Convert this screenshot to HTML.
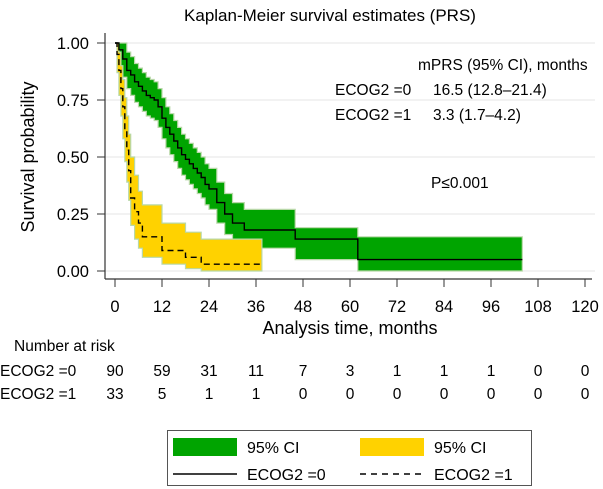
<!DOCTYPE html>
<html><head><meta charset="utf-8"><style>
body{margin:0;background:#fff;}
svg{display:block;font-family:"Liberation Sans",Arial,sans-serif;}
</style></head><body>
<svg id="chart" width="603" height="489" viewBox="0 0 603 489">
<rect x="0" y="0" width="603" height="489" fill="#fff"/>
<text x="330" y="21" text-anchor="middle" font-size="17">Kaplan-Meier survival estimates (PRS)</text>
<g id="grid"></g>
<g id="bands"></g>
<g id="lines"></g>
<g id="axes"></g>
<text x="34" y="157" text-anchor="middle" font-size="18" transform="rotate(-90 34 157)">Survival probability</text>
<text x="350" y="334" text-anchor="middle" font-size="18">Analysis time, months</text>
<text x="418" y="70" font-size="15.5">mPRS (95% CI), months</text>
<text x="335" y="95" font-size="15.5">ECOG2 =0</text>
<text x="433" y="95" font-size="15.5">16.5 (12.8–21.4)</text>
<text x="335" y="120" font-size="15.5">ECOG2 =1</text>
<text x="433" y="120" font-size="15.5">3.3 (1.7–4.2)</text>
<text x="431" y="188" font-size="15.5">P≤0.001</text>
<text x="14" y="351" font-size="15.5">Number at risk</text>
<text x="0" y="376" font-size="15.5">ECOG2 =0</text>
<text x="0" y="399" font-size="15.5">ECOG2 =1</text>
<g id="risk"></g>
<g>
<rect x="167.5" y="430.5" width="364" height="55" fill="#fff" stroke="#555"/>
<rect x="173" y="438" width="64" height="18" fill="#00a400"/>
<text x="247" y="453" font-size="16">95% CI</text>
<rect x="360" y="438" width="64" height="18" fill="#ffd200"/>
<text x="434" y="453" font-size="16">95% CI</text>
<line x1="173" y1="474" x2="237" y2="474" stroke="#000" stroke-width="1.5"/>
<text x="247" y="480" font-size="16">ECOG2 =0</text>
<line x1="360" y1="474" x2="424" y2="474" stroke="#000" stroke-width="1.5" stroke-dasharray="6,5"/>
<text x="434" y="480" font-size="16">ECOG2 =1</text>
</g>
</svg>
<script>
const xTicks=[0,12,24,36,48,60,72,84,96,108,120];
const yTicks=[0,0.25,0.5,0.75,1];
const yTickLabels=["0.00","0.25","0.50","0.75","1.00"];
const riskEcog0=[90,59,31,11,7,3,1,1,1,0,0];
const riskEcog1=[33,5,1,1,0,0,0,0,0,0,0];
const g0Time=[0,1,2,3,4,5,6,7,8,9,10,11,12,13,14,15,16,17,18,19,20,21,22,23,24,26,28,30,33,46,62];
const g0Surv=[1,.97,.93,.88,.86,.83,.81,.79,.77,.76,.75,.72,.67,.63,.6,.57,.54,.51,.49,.47,.45,.43,.41,.38,.36,.3,.25,.21,.18,.14,.05];
const g0Upper=[1,1,1,.96,.94,.91,.89,.87,.85,.84,.83,.8,.76,.72,.69,.66,.63,.6,.58,.56,.54,.52,.5,.47,.45,.39,.34,.3,.27,.19,.15];
const g0Lower=[1,.9,.85,.8,.77,.74,.72,.7,.68,.67,.66,.63,.58,.54,.51,.48,.45,.42,.4,.38,.36,.34,.32,.29,.27,.21,.16,.13,.1,.05,0];
const g0End=104;
const g1Time=[0,0.5,1,1.5,2,2.5,3,3.5,4,5,6,7,12,18,22];
const g1Surv=[1,.95,.88,.8,.72,.62,.53,.44,.32,.26,.21,.15,.09,.06,.03];
const g1Upper=[1,1,.96,.9,.84,.76,.68,.6,.5,.42,.35,.29,.21,.17,.14];
const g1Lower=[1,.87,.77,.68,.58,.48,.39,.31,.2,.14,.1,.06,.03,.01,0];
const g1End=37.5;

const NS='http://www.w3.org/2000/svg';
const X0=115,X1=585,Y0=271,Y1=43;
function xs(t){return X0+(t/120)*(X1-X0);}
function ys(v){return Y0-v*(Y0-Y1);}
function mk(tag,attrs,parent){const e=document.createElementNS(NS,tag);for(const k in attrs)e.setAttribute(k,attrs[k]);document.getElementById(parent).appendChild(e);return e;}
function stepPts(T,V,end){const p=[];for(let i=0;i<T.length;i++){if(i>0)p.push([xs(T[i]),ys(V[i-1])]);p.push([xs(T[i]),ys(V[i])]);}p.push([xs(end),ys(V[V.length-1])]);return p;}
function pathD(p){return p.map((q,i)=>(i?'L':'M')+q[0].toFixed(1)+','+q[1].toFixed(1)).join('');}

yTicks.forEach((v,i)=>{
  const l=mk('line',{x1:105,x2:595,y1:ys(v),y2:ys(v),stroke:'#e4e4e4','stroke-width':1},'grid');
  
  
  const t=mk('line',{x1:97,x2:105,y1:ys(v),y2:ys(v),stroke:'#333','stroke-width':1},'axes');
  
  
  const tx=mk('text',{x:89,y:ys(v)+6,'text-anchor':'end','font-size':16.5},'axes');
  tx.textContent=yTickLabels[i];
  
  
});
function band(T,U,L,end,fill,name){
  const up=stepPts(T,U,end),lo=stepPts(T,L,end).reverse();
  const p=mk('path',{d:pathD(up.concat(lo))+'Z',fill:fill,stroke:'#b8d8a8','stroke-width':1.2},'bands');
  
  
}
band(g0Time,g0Upper,g0Lower,g0End,'#00a400','ci-band-ecog0');
band(g1Time,g1Upper,g1Lower,g1End,'#ffd200','ci-band-ecog1');
const l0=mk('path',{d:pathD(stepPts(g0Time,g0Surv,g0End)),fill:'none',stroke:'#000','stroke-width':1.4},'lines');


const l1=mk('path',{d:pathD(stepPts(g1Time,g1Surv,g1End)),fill:'none',stroke:'#000','stroke-width':1.4,'stroke-dasharray':'6,4'},'lines');



const ya=mk('line',{x1:105,x2:105,y1:33,y2:279,stroke:'#333','stroke-width':1.2},'axes');


const xa=mk('line',{x1:105,x2:592,y1:279,y2:279,stroke:'#333','stroke-width':1.2},'axes');


xTicks.forEach((t,i)=>{
  const k=mk('line',{x1:xs(t),x2:xs(t),y1:279,y2:287,stroke:'#333','stroke-width':1},'axes');
  
  
  const tx=mk('text',{x:xs(t),y:312,'text-anchor':'middle','font-size':16.5},'axes');
  tx.textContent=t;
  
  
  const r0=mk('text',{x:xs(t),y:376,'text-anchor':'middle','font-size':15.5},'risk');
  r0.textContent=riskEcog0[i];
  
  
  const r1=mk('text',{x:xs(t),y:399,'text-anchor':'middle','font-size':15.5},'risk');
  r1.textContent=riskEcog1[i];
  
  
});
</script>
</body></html>
